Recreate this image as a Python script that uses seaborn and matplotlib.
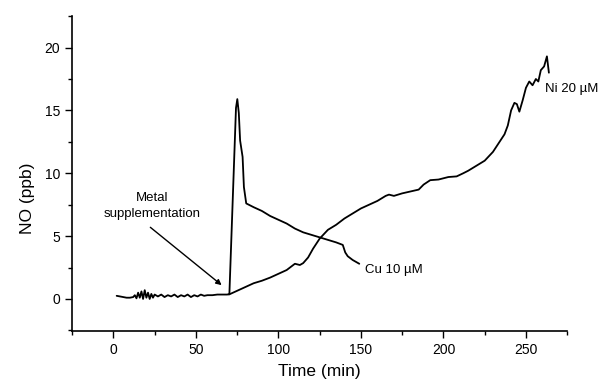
import numpy as np
import pandas as pd
import matplotlib
matplotlib.use("Agg")
import matplotlib.pyplot as plt
from matplotlib.ticker import MultipleLocator
import seaborn as sns

# baseline before metal addition (shared by both traces)
baseline_t = [2, 4, 6, 8, 10, 12, 13, 14, 15, 16, 17, 18, 19, 20, 21, 22, 23, 24, 25,
              27, 29, 31, 33, 35, 37, 39, 41, 43, 45, 47, 49, 51, 53, 55, 57, 60, 63, 66, 69]
baseline_v = [0.25, 0.2, 0.15, 0.1, 0.1, 0.15, 0.3, 0.05, 0.5, 0.1, 0.6, 0.0, 0.7, 0.1, 0.5,
              0.0, 0.4, 0.1, 0.35, 0.2, 0.35, 0.15, 0.3, 0.2, 0.35, 0.15, 0.3, 0.2, 0.35,
              0.15, 0.3, 0.2, 0.35, 0.25, 0.3, 0.3, 0.35, 0.35, 0.35]

# Cu 10 uM trace
cu_t = [70.3, 74.3, 75.1, 76.0, 76.8, 78.3, 79.1, 80.5, 85, 90, 95, 100, 105, 110, 115,
        120, 125, 130, 135, 139, 140.5, 142, 145, 149]
cu_v = [0.4, 15.2, 15.9, 14.8, 12.6, 11.3, 8.9, 7.6, 7.3, 7.0, 6.6, 6.3, 6.0, 5.6, 5.3,
        5.1, 4.9, 4.7, 4.5, 4.3, 3.7, 3.4, 3.1, 2.8]

# Ni 20 uM trace
ni_t = [70, 75, 80, 85, 90, 95, 100, 105, 110, 113, 115, 118, 121, 125, 130, 135, 140,
        145, 150, 155, 160, 165, 167, 170, 175, 180, 185, 188, 192, 197, 203, 208, 212,
        215, 220, 225, 230, 234, 237, 239, 241, 243, 244.5, 246, 248, 250, 252, 254, 256,
        257.5, 259, 261, 262.7, 263.9]
ni_v = [0.35, 0.65, 0.95, 1.25, 1.45, 1.7, 2.0, 2.3, 2.8, 2.7, 2.85, 3.3, 4.0, 4.8, 5.5,
        5.9, 6.4, 6.8, 7.2, 7.5, 7.8, 8.2, 8.3, 8.2, 8.4, 8.55, 8.7, 9.1, 9.45, 9.5, 9.7,
        9.75, 10.0, 10.2, 10.6, 11.0, 11.7, 12.5, 13.1, 13.8, 15.0, 15.6, 15.5, 14.9, 15.8,
        16.8, 17.3, 17.0, 17.5, 17.3, 18.2, 18.5, 19.3, 18.0]

sns.set_style("ticks", {'text.color': 'black', 'axes.labelcolor': 'black',
                        'xtick.color': 'black', 'ytick.color': 'black'})
plt.rcParams['font.family'] = ['Liberation Sans', 'DejaVu Sans']

fig = plt.figure(figsize=(6.06, 3.84), dpi=100)
ax = fig.add_axes([0.119, 0.138, 0.817, 0.82])

cu_df = pd.DataFrame({'t': baseline_t + cu_t, 'v': baseline_v + cu_v})
ni_df = pd.DataFrame({'t': ni_t, 'v': ni_v})

sns.lineplot(data=cu_df, x='t', y='v', ax=ax, color='black', lw=1.3, sort=False)
sns.lineplot(data=ni_df, x='t', y='v', ax=ax, color='black', lw=1.3, sort=False)

ax.set_xlim(-25, 275)
ax.set_ylim(-2.55, 22.5)
ax.xaxis.set_major_locator(MultipleLocator(50))
ax.xaxis.set_minor_locator(MultipleLocator(25))
ax.yaxis.set_major_locator(MultipleLocator(5))
ax.yaxis.set_minor_locator(MultipleLocator(2.5))
ax.tick_params(which='major', length=5, width=1, labelsize=10, colors='black')
ax.tick_params(which='minor', length=3, width=1, colors='black')
for s in ['left', 'bottom']:
    ax.spines[s].set_linewidth(1.2)
    ax.spines[s].set_color('black')
sns.despine(ax=ax)

ax.set_xlabel('Time (min)', fontsize=12.5, labelpad=5, color='black')
ax.set_ylabel('NO (ppb)', fontsize=12.5, color='black')
ax.yaxis.set_label_coords(-0.075, 0.42)

# annotation: text and arrow drawn separately
ax.text(23.5, 7.4, 'Metal\nsupplementation', ha='center', va='center',
        fontsize=9.5, linespacing=1.5, color='black')
ax.annotate('', xy=(65.6, 1.1), xytext=(22.4, 5.7),
            arrowprops=dict(arrowstyle='-|>', color='black', lw=1,
                            shrinkA=0, shrinkB=0, mutation_scale=8))
ax.text(152.5, 2.3, 'Cu 10 µM', fontsize=9.5, ha='left', va='center', color='black')
ax.text(261.8, 16.7, 'Ni 20 µM', fontsize=9.5, ha='left', va='center', color='black')

fig.savefig('out.png', dpi=100)
